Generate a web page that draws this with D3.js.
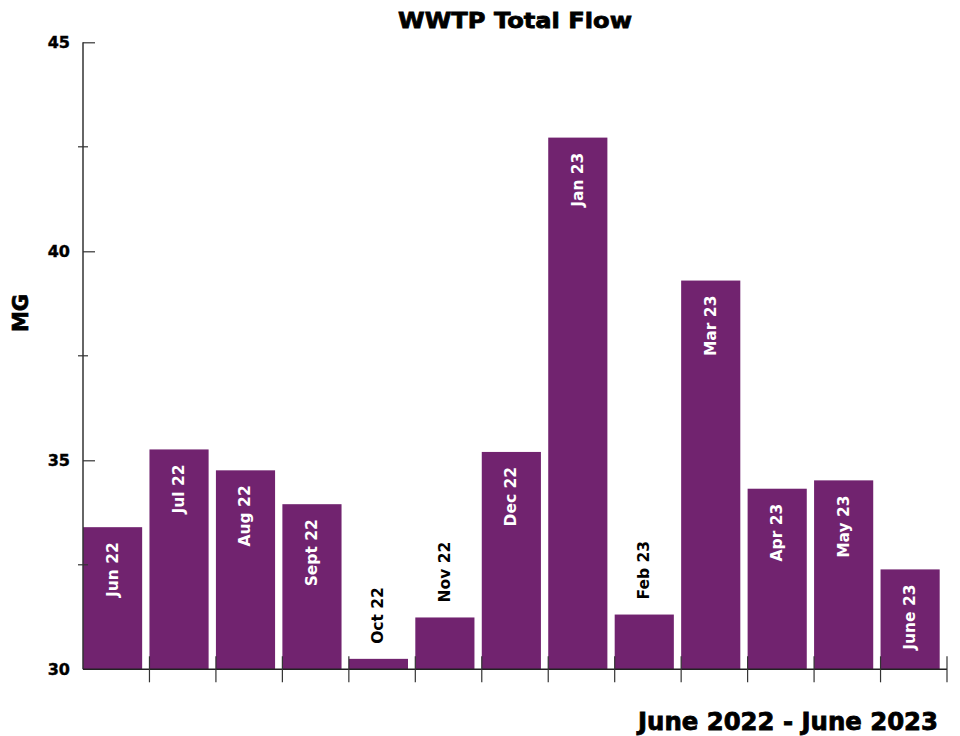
<!DOCTYPE html>
<html><head><meta charset="utf-8">
<script src="https://cdn.jsdelivr.net/npm/d3@7"></script>
<style>body{margin:0;background:#fff}svg{display:block}text{font-family:"DejaVu Sans",sans-serif;font-weight:bold}</style>
</head><body><svg id="c" width="960" height="736"></svg>
<script>
const categories = ["Jun 22","Jul 22","Aug 22","Sept 22","Oct 22","Nov 22","Dec 22","Jan 23","Feb 23","Mar 23","Apr 23","May 23","June 23"];
const values = [33.40,35.26,34.76,33.95,30.25,31.24,35.20,42.72,31.31,39.30,34.32,34.52,32.39];
const outsideLabels = ["Oct 22","Nov 22","Feb 23"];
const majorTicks = [30,35,40,45];
const minorTicks = [32.5,37.5,42.5];

(function(){
const svg = d3.select("#c");
const mLeft = 83, mRight = 947, mTop = 42.3, mBottom = 669.3;
const x = d3.scaleBand().domain(categories).range([mLeft, mRight]).padding(0);
const y = d3.scaleLinear().domain([30,45]).range([mBottom, mTop]);
const barW = x.bandwidth()*0.89;
const color = "#71236f";

svg.append("g").selectAll("rect").data(categories).join("rect")
  .attr("x", d => x(d))
  .attr("y", (d,i) => y(values[i]))
  .attr("width", barW)
  .attr("height", (d,i) => y(30) - y(values[i]))
  .attr("fill", color);

svg.append("g").selectAll("text").data(categories).join("text")
  .attr("transform", (d,i) => {
    const cx = x(d) + barW/2 + 5;
    const out = outsideLabels.includes(d);
    const ty = out ? y(values[i]) - 15 : y(values[i]) + 15;
    return `translate(${cx},${ty}) rotate(-90)`;
  })
  .attr("text-anchor", d => outsideLabels.includes(d) ? "start" : "end")
  .attr("fill", d => outsideLabels.includes(d) ? "#000" : "#fff")
  .attr("font-size", 15.5)
  .text(d => d);

const yAxis = d3.axisRight(y).tickValues(majorTicks.filter(v=>v>30)).tickSize(12).tickFormat("");
const gy = svg.append("g").attr("transform", `translate(${mLeft},0)`).call(yAxis);
gy.select(".domain").remove();
gy.selectAll("line").attr("stroke", "#333").attr("stroke-width", 1.2);
svg.append("line").attr("x1", mLeft).attr("x2", mLeft).attr("y1", mTop).attr("y2", mBottom)
  .attr("stroke", "#333").attr("stroke-width", 1.5);
svg.append("g").selectAll("line").data(minorTicks).join("line")
  .attr("x1", mLeft-5).attr("x2", mLeft+5)
  .attr("y1", d => y(d)).attr("y2", d => y(d))
  .attr("stroke", "#333").attr("stroke-width", 1.2);
svg.append("g").selectAll("text").data(majorTicks).join("text")
  .attr("x", 70).attr("y", d => y(d) + 6)
  .attr("text-anchor", "end").attr("font-size", 16).attr("fill", "#000")
  .attr("stroke", "#000").attr("stroke-width", 0.4)
  .text(d => d);

svg.append("line").attr("x1", mLeft).attr("x2", mRight).attr("y1", mBottom).attr("y2", mBottom)
  .attr("stroke", "#222").attr("stroke-width", 1.5);
const bounds = categories.slice(1).map(c => x(c)).concat([mRight]);
svg.append("g").selectAll("line").data(bounds).join("line")
  .attr("x1", d => d).attr("x2", d => d)
  .attr("y1", mBottom - 13).attr("y2", mBottom + 13)
  .attr("stroke", "#333").attr("stroke-width", 1.2);

svg.append("text").attr("x", 398).attr("y", 28)
  .attr("textLength", 234).attr("lengthAdjust", "spacingAndGlyphs")
  .attr("font-size", 22).attr("stroke", "#000").attr("stroke-width", 0.8).text("WWTP Total Flow");
svg.append("text").attr("transform", "translate(28,313) rotate(-90)").attr("text-anchor", "middle")
  .attr("font-size", 21).attr("stroke", "#000").attr("stroke-width", 0.7).text("MG");
svg.append("text").attr("x", 638).attr("y", 730)
  .attr("textLength", 300).attr("lengthAdjust", "spacingAndGlyphs")
  .attr("font-size", 24).attr("stroke", "#000").attr("stroke-width", 0.8).text("June 2022 - June 2023");
})();
</script></body></html>
